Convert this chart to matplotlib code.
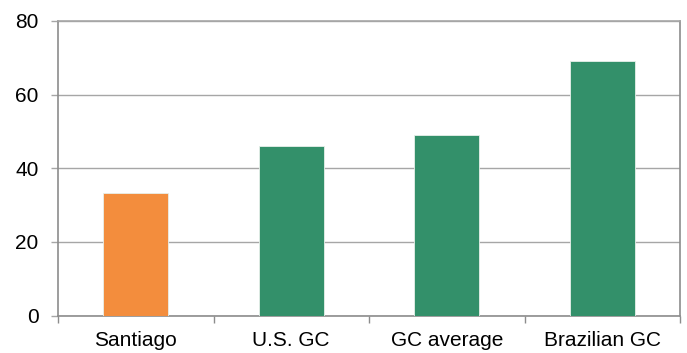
import matplotlib
matplotlib.use("Agg")
import matplotlib.pyplot as plt
import numpy as np

# Category values
categories = ["Santiago", "U.S. GC", "GC average", "Brazilian GC"]
values = [33.3, 46.0, 49.0, 69.0]
bar_colors = ["#F38D3D", "#33906A", "#33906A", "#33906A"]

plt.rcParams["font.family"] = ["Liberation Sans", "DejaVu Sans"]

fig = plt.figure(figsize=(6.87, 3.53), dpi=100)
ax = fig.add_axes([58 / 687, 1 - 315.5 / 353, 622 / 687, 294.5 / 353])

x = np.arange(len(categories))
ax.bar(x, values, width=0.42, color=bar_colors, edgecolor="#e8f0ea",
       linewidth=0.6, zorder=3)

ax.set_xlim(-0.5, len(categories) - 0.5)
ax.set_ylim(0, 80)
ax.set_yticks([0, 20, 40, 60, 80])
ax.yaxis.grid(True, color="#a6a6a6", linewidth=1.0, zorder=0)

# category labels centred under bars, tick marks at the boundaries
ax.set_xticks(np.arange(-0.5, len(categories)), minor=False)
ax.set_xticklabels([])
ax.set_xticks(x, minor=True)
ax.set_xticklabels(categories, minor=True, fontsize=15)
ax.tick_params(axis="x", which="minor", length=0, pad=11)
ax.tick_params(axis="x", which="major", length=5, width=1.0, color="#8c8c8c")
ax.tick_params(axis="y", length=5, width=1.0, color="#a6a6a6", labelsize=15, pad=9)

for side in ["left", "right", "top", "bottom"]:
    ax.spines[side].set_color("#8c8c8c")
    ax.spines[side].set_linewidth(1.2)
ax.spines["top"].set_color("#a6a6a6")

fig.savefig("out.png", dpi=100)
